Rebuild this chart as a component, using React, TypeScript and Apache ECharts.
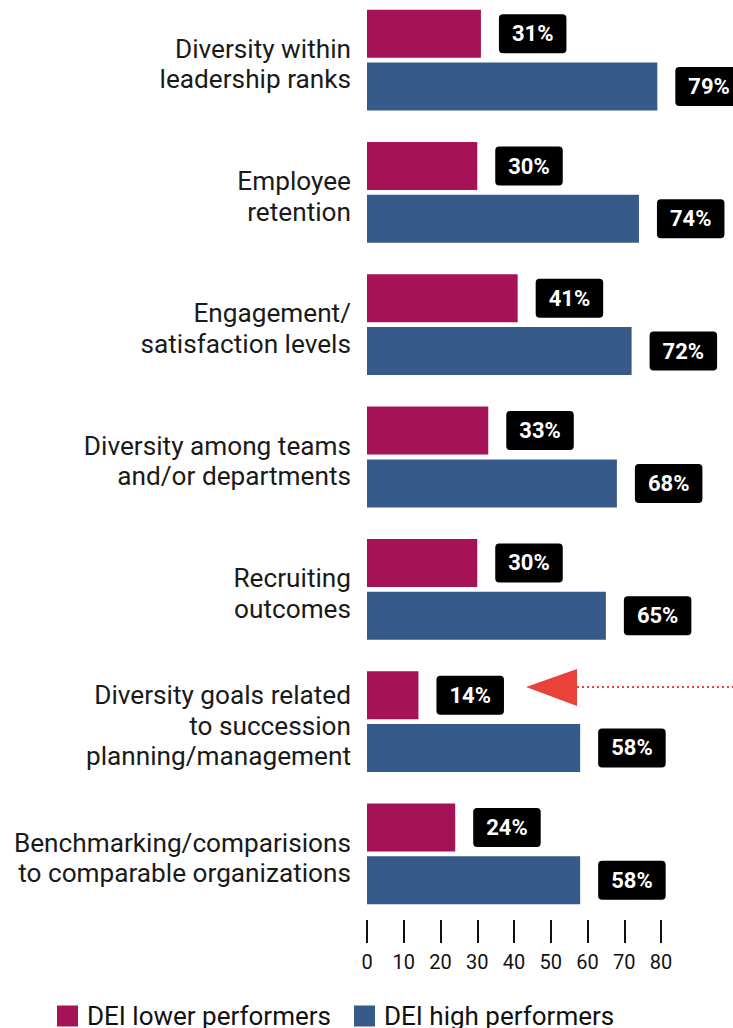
import React, { useEffect, useRef } from "react";
import * as echarts from "echarts";

const categories = [
  "Diversity within\nleadership ranks",
  "Employee\nretention",
  "Engagement/\nsatisfaction levels",
  "Diversity among teams\nand/or departments",
  "Recruiting\noutcomes",
  "Diversity goals related\nto succession\nplanning/management",
  "Benchmarking/comparisions\nto comparable organizations",
];
const lowerPerformers = [31, 30, 41, 33, 30, 14, 24];
const highPerformers = [79, 74, 72, 68, 65, 58, 58];
const seriesNames = ["DEI lower performers", "DEI high performers"];
const xTicks = [0, 10, 20, 30, 40, 50, 60, 70, 80];

const MAGENTA = "#A51356";
const BLUE = "#365A89";
const FONT = "Roboto";
const SHIFT = 6; // chart is drawn 6px above the page top

export default function App() {
  const ref = useRef<HTMLDivElement>(null);
  useEffect(() => {
    document.body.style.margin = "0";
    document.body.style.overflow = "hidden";
    if (!ref.current) return;
    const chart = echarts.init(ref.current, null, { renderer: "svg" });
    const label = {
      show: true,
      position: "right",
      distance: 18,
      formatter: "{c}%",
      backgroundColor: "#000",
      borderRadius: 4,
      padding: [9, 13, 8, 13],
      color: "#fff",
      fontWeight: "bold",
      fontSize: 22,
      fontFamily: FONT,
    };
    chart.setOption({
      animation: false,
      textStyle: { fontFamily: FONT },
      grid: { left: 367, right: 72, top: 0, bottom: 108, containLabel: false },
      xAxis: {
        type: "value",
        min: xTicks[0],
        max: xTicks[xTicks.length - 1],
        interval: 10,
        splitLine: { show: false },
        axisLine: { show: false },
        axisTick: { show: true, length: 23, lineStyle: { color: "#111", width: 2 } },
        axisLabel: { margin: 32, fontSize: 20, color: "#111", fontFamily: FONT },
      },
      yAxis: {
        type: "category",
        data: categories,
        inverse: true,
        axisLine: { show: false },
        axisTick: { show: false },
        axisLabel: {
          margin: 16,
          color: "#1a1a1a",
          fontFamily: FONT,
          align: "right",
          formatter: (v: string) =>
            "{s| }\n" + v.split("\n").map((l) => `{t|${l}}`).join("\n"),
          rich: {
            s: { fontSize: 1, lineHeight: 8 },
            t: { fontSize: 26.2, lineHeight: 30.5, fontFamily: FONT, color: "#1a1a1a" },
          },
        },
      },
      legend: {
        data: seriesNames,
        left: 52,
        top: 998 + SHIFT,
        icon: "rect",
        itemWidth: 21,
        itemHeight: 21,
        itemGap: 23,
        textStyle: { fontSize: 26, color: "#111", fontFamily: FONT, padding: [0, 0, 0, 4] },
      },
      series: [
        {
          name: seriesNames[0],
          type: "bar",
          data: lowerPerformers,
          itemStyle: { color: MAGENTA },
          barWidth: 48,
          barGap: "10%",
          barCategoryGap: "23%",
          label,
        },
        {
          name: seriesNames[1],
          type: "bar",
          data: highPerformers,
          itemStyle: { color: BLUE },
          barWidth: 48,
          barGap: "10%",
          barCategoryGap: "23%",
          label,
        },
      ],
      graphic: [
        {
          type: "polygon",
          shape: { points: [[526, 687 + SHIFT], [577, 669 + SHIFT], [577, 706 + SHIFT]] },
          style: { fill: "#E8423A" },
        },
        {
          type: "line",
          shape: { x1: 577, y1: 687 + SHIFT, x2: 733, y2: 687 + SHIFT },
          style: { stroke: "#E8423A", lineWidth: 2, lineDash: [2, 3] },
        },
      ],
    });
    return () => chart.dispose();
  }, []);
  return <div ref={ref} style={{ width: 733, height: 1028 + SHIFT, marginTop: -SHIFT }} />;
}
